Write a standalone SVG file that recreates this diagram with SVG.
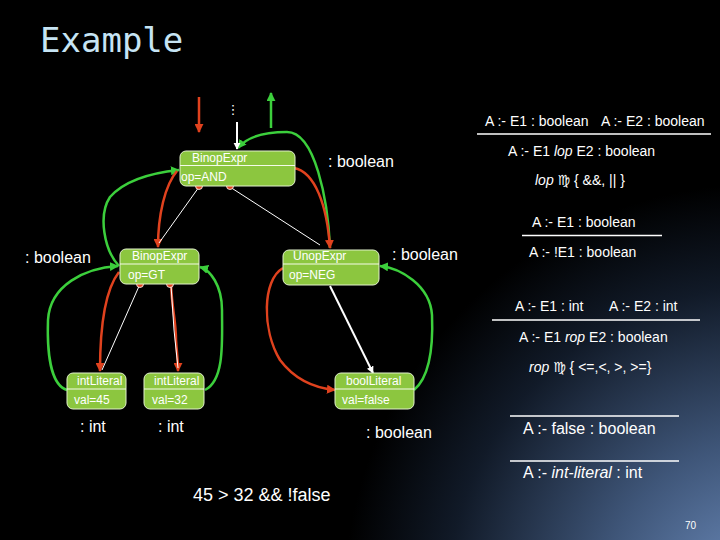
<svg xmlns="http://www.w3.org/2000/svg" width="720" height="540" viewBox="0 0 720 540">
<defs>
<radialGradient id="bg" gradientUnits="userSpaceOnUse" cx="760" cy="600" r="520">
<stop offset="0" stop-color="#6f8fc0"/>
<stop offset="0.3" stop-color="#3f5679"/>
<stop offset="0.6" stop-color="#111a28"/>
<stop offset="0.8" stop-color="#000"/>
<stop offset="1" stop-color="#000"/>
</radialGradient>
<marker id="ag" viewBox="0 0 10 10" refX="9" refY="5" markerWidth="3.6" markerHeight="3.6" orient="auto" markerUnits="strokeWidth"><path d="M0,0 L10,5 L0,10 z" fill="#3ccf3c"/></marker>
<marker id="ar" viewBox="0 0 10 10" refX="9" refY="5" markerWidth="3.6" markerHeight="3.6" orient="auto" markerUnits="strokeWidth"><path d="M0,0 L10,5 L0,10 z" fill="#e0421e"/></marker>
<marker id="aw" viewBox="0 0 10 10" refX="9" refY="5" markerWidth="3.6" markerHeight="3.6" orient="auto" markerUnits="strokeWidth"><path d="M0,0 L10,5 L0,10 z" fill="#ffffff"/></marker>
<style>
.node rect{fill:#8cc63f;stroke:#e2f2cc;stroke-width:1}
.node line{stroke:#f4fbe8;stroke-width:1}
.nt{font-family:"Liberation Sans",Arial,sans-serif;font-size:12px;fill:#ffffff}
.g{fill:none;stroke:#3ccf3c;stroke-width:2.5;marker-end:url(#ag)}
.r{fill:none;stroke:#e0421e;stroke-width:2.5;marker-end:url(#ar)}
.w{fill:none;stroke:#ffffff;stroke-width:1}
.wa{fill:none;stroke:#ffffff;stroke-width:2;marker-end:url(#aw)}
.dot{fill:#e0421e;stroke:#ffffff;stroke-width:0.8}
.t{font-family:"Liberation Sans",Arial,sans-serif;fill:#ffffff}
.lab{font-family:"Liberation Sans",Arial,sans-serif;font-size:16px;fill:#ffffff}
.rule{stroke:#ffffff;stroke-width:1.5}
</style>
</defs>
<rect width="720" height="540" fill="url(#bg)"/>
<text x="40" y="52" font-family="DejaVu Sans Mono, monospace" font-size="34" fill="#c6e4f4">Example</text>

<g id="connectors">
<path class="g" d="M 330 248 C 328 200, 315 132, 287 132 C 262 132, 246 138, 238 148"/>
<path class="g" d="M 271 128 L 271 93"/>
<path class="g" d="M 119 266 C 104 250, 98 215, 110 197 C 125 180, 150 173, 179 170"/>
<path class="g" d="M 67 390 C 50 385, 47 350, 48 320 C 50 285, 85 268, 118 266"/>
<path class="g" d="M 205 390 C 225 380, 222 340, 222 310 C 222 285, 210 270, 200 267"/>
<path class="g" d="M 414 390 C 432 375, 433 340, 432 315 C 430 285, 400 268, 380 266"/>
<path class="r" d="M 199 97 L 199 132"/>
<path class="r" d="M 177 171 C 165 185, 158 215, 158 247"/>
<path class="r" d="M 294 168 C 315 172, 327 205, 330 248"/>
<path class="r" d="M 119 272 C 105 290, 100 330, 100 371"/>
<path class="r" d="M 171 284 C 172 310, 176 320, 176 340 C 177 355, 178 360, 178 371"/>
<path class="r" d="M 283 268 C 262 280, 262 330, 280 360 C 295 380, 315 388, 335 390"/>
<path class="w" d="M 199 187 L 159 243"/>
<path class="w" d="M 230 187 L 320 245"/>
<path class="w" d="M 140 284 L 102 370"/>
<path class="w" d="M 171 285 L 174 330 L 178 368"/>
<path class="wa" d="M 330 286 L 373 373"/>
<path class="wa" d="M 237 122 L 237 149"/>
<circle class="dot" cx="199" cy="186" r="3.5"/>
<circle class="dot" cx="230" cy="186" r="3.5"/>
<circle class="dot" cx="140" cy="284" r="3.5"/>
<circle class="dot" cx="170" cy="284" r="3.5"/>
</g>
<text x="233" y="114" text-anchor="middle" font-family="DejaVu Sans, sans-serif" font-size="13" fill="#ffffff">⋮</text>

<g id="and" class="node">
<rect x="180" y="151" width="115" height="35" rx="6"/>
<line x1="180" y1="165.5" x2="295" y2="165.5"/>
<text class="nt" x="192" y="162">BinopExpr</text>
<text class="nt" x="181" y="181">op=AND</text>
</g>
<g id="gt" class="node">
<rect x="120" y="249" width="79" height="35" rx="6"/>
<line x1="120" y1="264" x2="199" y2="264"/>
<text class="nt" x="132" y="260">BinopExpr</text>
<text class="nt" x="128" y="279">op=GT</text>
</g>
<g id="neg" class="node">
<rect x="283" y="250" width="96" height="35" rx="6"/>
<line x1="283" y1="264" x2="379" y2="264"/>
<text class="nt" x="293" y="260">UnopExpr</text>
<text class="nt" x="289" y="279">op=NEG</text>
</g>
<g id="int45" class="node">
<rect x="67" y="373" width="59" height="36" rx="6"/>
<line x1="67" y1="389" x2="126" y2="389"/>
<text class="nt" x="77" y="385">intLiteral</text>
<text class="nt" x="74" y="404">val=45</text>
</g>
<g id="int32" class="node">
<rect x="144" y="373" width="60" height="36" rx="6"/>
<line x1="144" y1="389" x2="204" y2="389"/>
<text class="nt" x="154" y="385">intLiteral</text>
<text class="nt" x="152" y="404">val=32</text>
</g>
<g id="bool" class="node">
<rect x="335" y="373" width="79" height="36" rx="6"/>
<line x1="335" y1="389" x2="414" y2="389"/>
<text class="nt" x="346" y="385">boolLiteral</text>
<text class="nt" x="342" y="404">val=false</text>
</g>

<text class="lab" x="328" y="167">: boolean</text>
<text class="lab" x="25" y="263">: boolean</text>
<text class="lab" x="392" y="260">: boolean</text>
<text class="lab" x="80" y="432">: int</text>
<text class="lab" x="158" y="432">: int</text>
<text class="lab" x="366" y="438">: boolean</text>

<g id="rules">
<text class="t" font-size="14" x="485" y="126">A :- E1 : boolean</text>
<text class="t" font-size="14" x="601" y="126">A :- E2 : boolean</text>
<line class="rule" x1="477" y1="134" x2="711" y2="134"/>
<text class="t" font-size="14" x="508" y="156">A :- E1 <tspan font-style="italic">lop</tspan> E2 : boolean</text>
<text class="t" font-size="14" x="535" y="185"><tspan font-style="italic">lop</tspan> <tspan font-family="DejaVu Sans, sans-serif" font-style="italic">♍</tspan> { &amp;&amp;, || }</text>
<text class="t" font-size="14" x="532" y="227">A :- E1 : boolean</text>
<line class="rule" x1="522" y1="235.5" x2="662" y2="235.5"/>
<text class="t" font-size="14" x="529" y="257">A :- !E1 : boolean</text>
<text class="t" font-size="14" x="515" y="311">A :- E1 : int</text>
<text class="t" font-size="14" x="609" y="311">A :- E2 : int</text>
<line class="rule" x1="492" y1="320" x2="700" y2="320"/>
<text class="t" font-size="14" x="519" y="342">A :- E1 <tspan font-style="italic">rop</tspan> E2 : boolean</text>
<text class="t" font-size="14" x="529" y="372"><tspan font-style="italic">rop</tspan> <tspan font-family="DejaVu Sans, sans-serif" font-style="italic">♍</tspan> { &lt;=,&lt;, &gt;, &gt;=}</text>
<line class="rule" x1="510" y1="416" x2="679" y2="416"/>
<text class="t" font-size="16" x="523" y="434">A :- false : boolean</text>
<line class="rule" x1="510" y1="461" x2="679" y2="461"/>
<text class="t" font-size="16" x="523" y="478">A :- <tspan font-style="italic">int-literal</tspan> : int</text>
</g>

<text class="t" font-size="18" x="193" y="501">45 &gt; 32 &amp;&amp; !false</text>
<text class="t" font-size="10" x="685" y="529">70</text>
</svg>
